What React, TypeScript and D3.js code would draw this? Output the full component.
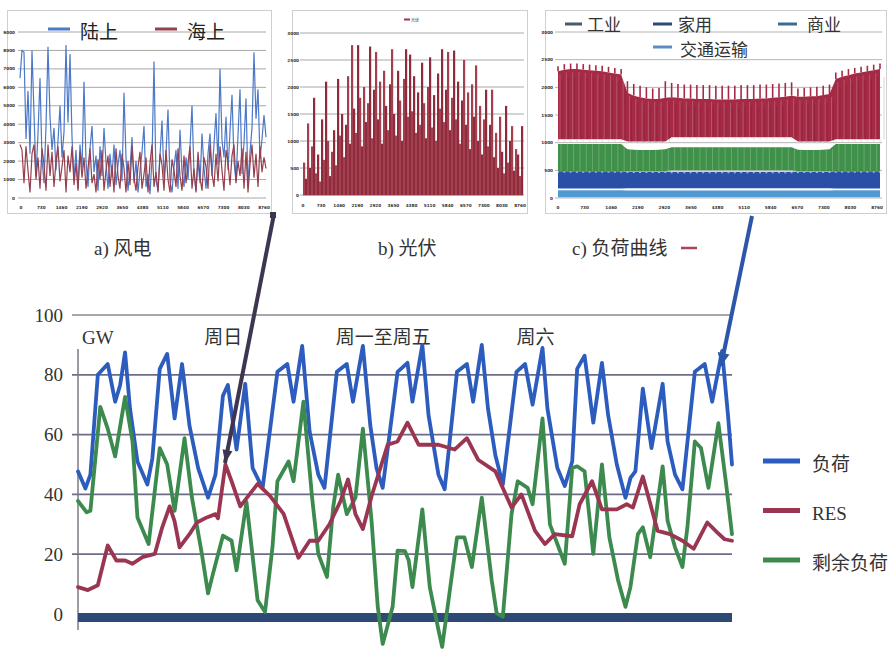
import React from "react";
import * as d3 from "d3";

// ---------- Main chart: one and a half weeks of hourly system data (GW) ----------
const LOAD_HOURS = [0,3,5,8,12,15,17,19,21,24,28,30,33,36,39,42,45,48.5,52.5,55.5,58.5,60.5,64,67.5,70.5,74.5,80.5,84.5,87,90.5,93.5,97,99.5,104.5,108.5,111,115,118,120.5,123,129,133,135,139,141.5,145.5,148,153,157,159.5,163,165.5,168.5,171.5,177,180.5,183.5,187.5,189.5,193.5,196.5,199.5,201.5,204.5,208,211.5,214,217.5,221,223,225,228,231.5,236,238,241,244,249,253,256,260,262.5,264];
const LOAD_GW = [47.7,42,46.6,80,83.6,71,76.5,87.5,68.7,51,43.3,52,82,87,65.4,83.6,63,48.8,38.9,46.6,73,76.6,55,77,48.8,42,81,83.6,71,89.7,61,46.6,42.2,81,83.6,71,89.7,63,48.8,42.2,81,84,71,90,66.5,46.6,41.7,81,83.6,71,90,68.7,53,43.3,81,83.6,70,89,68.7,48.8,42.8,51,82,86.4,64,84,66.5,50,38.9,45.5,47.7,75.4,55.5,77,57.7,46.6,41.7,81,83.6,71,88,65.4,50];

const RES_HOURS = [0,4,8,12,15.5,19,22,26,31,34,37,39,41,45,48,52,55.5,56.5,59.5,62,65.5,72.5,77.5,83,89,93.5,97,101.5,106,109,112,115,118.5,122.5,125,129,133,137.5,145.5,152,157,161.5,168.5,175,179,184.5,188.5,192.5,199.5,202.5,207.5,211.5,217.5,221.5,224,228,234,239,244,248.5,254,258,261,264];
const RES_GW = [9,8,9.6,22.9,17.9,17.9,16.8,19,20.1,29,36,31,22.3,26.7,30.6,32.3,33.4,32,50,44.4,36,43.5,39.5,33.5,18.8,24.5,24.5,30,37.8,45,33.4,28.4,39.4,50,56.6,57.7,64,56.6,56.6,55,58.8,51.6,47.7,35.6,40,27.8,23.4,26.7,26,36.7,44.4,35,35,36.7,35.6,46,27.8,26.7,24.5,21.8,30.6,27.3,25,24.5];

const RESID_HOURS = [0,3.5,5,9,12,15,19,22,24,28.5,33,36,39,43,46,50,52.5,54.5,58.5,62,64,68,72.5,75.5,78.5,80.5,85,87,91,94.5,97,100.5,103,105,108.5,112,115,118.5,121,123,127,129,132,133.5,135,139,142,145.5,147,153,156,159,163,167,169,171.5,175,177.5,181.5,183.5,187.5,190.5,193.5,196.5,199.5,201.5,204.5,208,211.5,214.5,218,221,223,226,228,231,236,238,241,244,246,249,251.5,254.5,258.5,261.5,264];
const RESID_GW = [37.8,34,34.5,69.3,62,52.7,72.6,57.7,32.3,23.4,55.5,50,34.5,58.8,38.9,20.1,6.9,13.5,26.2,24.5,14.6,37.5,4.6,0.7,22.3,44.4,51,44.4,71,38.9,20.1,12.4,35.6,46.6,33.4,38.9,62,31.2,2.4,-10,2.4,21.2,21,17.9,9,35,9,-5.3,-11,25.6,25.6,15.7,38.9,11.3,0.2,-0.9,33.4,44.4,42.2,36.7,65.4,30,23.4,16.8,48.8,49.4,47.7,20.1,50,25.6,11.3,2.4,9,26.7,29,19,49.4,31.2,22.3,15.7,29,57.7,55.5,42.2,63.8,44.4,26.7];

const MAIN_TICKS = [0, 20, 40, 60, 80, 100];
const DAY_LABELS = [
  { text: "GW", hour: 1.6 },
  { text: "周日", hour: 51 },
  { text: "周一至周五", hour: 104 },
  { text: "周六", hour: 177 },
];
const MAIN_LEGEND = ["负荷", "RES", "剩余负荷"];

// ---------- Panel a: wind, onshore vs offshore (GW) ----------
const WIND_ONSHORE = [6.5,8.0,7.9,3.2,5.8,2.4,8.0,4.6,1.2,3.5,6.5,2.1,0.8,3.9,8.2,4.4,2.6,3.8,1.5,3.1,5.0,2.2,3.6,8.3,4.1,7.8,3.3,1.0,2.6,0.5,2.9,1.6,6.3,2.0,0.6,2.7,3.9,1.4,2.3,0.4,2.8,1.2,3.8,1.9,0.5,2.4,1.1,2.9,0.7,1.8,2.6,0.9,5.7,2.2,0.4,1.6,3.3,0.8,2.0,0.3,1.5,2.5,3.9,0.6,1.3,0.2,2.1,7.4,1.0,0.4,2.3,4.2,1.1,2.4,4.8,0.9,0.3,1.7,2.6,0.5,3.7,1.4,0.6,2.2,1.0,2.8,5.0,1.3,0.4,2.0,0.8,3.5,1.6,0.5,2.4,3.5,1.2,2.9,4.6,1.8,7.0,3.1,2.2,4.4,1.5,3.6,5.6,2.0,0.9,3.4,5.9,1.3,3.0,5.4,0.6,2.5,3.8,7.9,4.3,5.9,2.1,3.2,4.5,3.3];
const WIND_OFFSHORE = [2.9,2.6,0.8,2.8,1.5,0.3,2.4,2.9,1.0,2.2,0.5,2.7,1.8,0.4,2.9,1.2,2.5,0.6,2.0,2.8,0.9,1.7,2.6,0.3,2.3,1.4,2.8,0.7,1.9,0.4,2.5,1.1,2.2,0.5,1.6,2.7,0.8,1.3,0.3,2.1,1.0,2.6,0.4,1.5,2.3,0.6,1.8,0.3,2.7,1.2,0.5,2.4,1.6,0.3,2.0,0.7,2.8,1.1,0.4,1.7,2.5,0.5,1.3,2.2,0.3,1.9,2.9,0.6,1.4,0.3,2.4,1.8,0.4,2.6,1.0,0.3,2.1,1.5,0.6,2.7,1.2,0.4,2.3,0.8,1.9,2.8,0.5,1.6,0.3,2.5,1.1,0.4,2.2,1.7,0.5,2.9,1.3,0.6,2.4,0.9,2.8,1.5,0.4,2.6,1.9,0.7,2.3,2.9,0.8,2.0,1.2,2.7,0.5,2.5,0.3,1.8,2.9,1.1,2.4,0.6,2.8,1.4,2.2,1.6];
const WIND_Y_TICKS = [0,1,2,3,4,5,6,7,8,9];

// ---------- Panel b: photovoltaics ----------
const SOLAR = [1.2,0.6,2.65,1.0,1.8,3.6,0.8,1.5,0.5,2.8,1.3,4.2,2.0,0.7,1.6,2.4,1.1,4.3,2.2,3.0,1.4,2.6,4.4,1.9,5.55,3.2,2.3,5.55,3.6,1.8,4.0,2.7,3.4,5.5,2.1,3.9,5.3,2.8,4.2,1.9,4.6,3.3,2.4,4.1,5.4,3.0,2.2,4.6,3.5,2.0,4.3,5.4,2.9,5.2,3.1,4.4,2.3,3.8,2.6,4.9,3.4,2.1,4.0,5.1,2.5,3.7,2.0,4.5,3.2,5.4,2.7,3.9,5.3,2.4,3.6,5.35,2.8,4.2,1.9,3.5,5.0,2.6,3.8,1.7,4.1,2.9,4.8,2.0,3.3,1.5,2.8,3.9,1.8,2.6,3.9,1.4,2.3,1.0,2.9,1.6,0.8,3.3,1.2,2.0,2.55,0.9,1.7,1.5,0.7,2.55];
const SOLAR_Y_TICKS = [0,1,2,3,4,5,6];

// ---------- Panel c: weekly load by sector (MW) ----------
const IND_PEAK = [2380,2420,2430,2430,2420,2410,2400,2390,2370,2350,2330,2110,2060,2030,2000,1980,1990,2110,2080,2060,2050,2050,2040,2040,2040,2030,2030,2030,2030,2040,2040,2040,2050,2050,2060,2070,2080,2090,1980,1990,2000,2010,2030,2050,2270,2300,2330,2350,2370,2390,2410,2430];
const IND_HIGH = [2290,2320,2330,2330,2320,2310,2300,2290,2270,2250,2230,1900,1850,1820,1800,1790,1790,1810,1820,1810,1800,1800,1790,1790,1790,1780,1780,1780,1780,1790,1790,1790,1800,1800,1810,1820,1830,1850,1830,1830,1840,1840,1860,1880,2150,2190,2220,2250,2270,2290,2310,2330];
const IND_LOW = [1060,1060,1060,1060,1060,1060,1060,1060,1060,1060,1060,1020,1020,1020,1020,1020,1020,1020,1100,1100,1100,1100,1100,1100,1100,1100,1100,1100,1100,1100,1100,1100,1100,1100,1100,1100,1100,1100,1020,1020,1020,1020,1020,1020,1060,1060,1060,1060,1060,1060,1060,1060];
const HOME_HIGH = [975,975,975,975,975,975,975,975,975,975,975,880,870,866,866,866,870,880,915,915,915,915,915,915,915,915,915,915,915,915,915,915,915,915,915,915,915,915,870,866,866,866,870,880,975,975,975,975,975,975,975,975];
const HOME_LOW = [490,490,490,490,490,490,490,490,490,490,490,490,490,490,490,490,490,490,500,500,500,500,500,500,500,500,500,500,500,500,500,500,500,500,500,500,500,500,490,490,490,490,490,490,490,490,490,490,490,490,490,490];
const COMM_HIGH = [485,485,485,485,485,485,485,485,485,485,485,480,480,480,480,480,480,480,475,475,475,475,475,475,475,475,475,475,475,475,475,475,475,475,475,475,475,475,480,480,480,480,480,480,485,485,485,485,485,485,485,485];
const COMM_LOW = [170,170,170,170,170,170,170,170,170,170,170,175,175,175,175,175,175,175,175,175,175,175,175,175,175,175,175,175,175,175,175,175,175,175,175,175,175,175,175,175,175,175,175,175,170,170,170,170,170,170,170,170];
const TRANS_HIGH = [140,140,140,140,140,140,140,140,140,140,140,135,135,135,135,135,135,135,135,135,135,135,135,135,135,135,135,135,135,135,135,135,135,135,135,135,135,135,135,135,135,135,135,135,140,140,140,140,140,140,140,140];
const TRANS_LOW = [15,15,15,15,15,15,15,15,15,15,15,15,15,15,15,15,15,15,15,15,15,15,15,15,15,15,15,15,15,15,15,15,15,15,15,15,15,15,15,15,15,15,15,15,15,15,15,15,15,15,15,15];
const LOAD_Y_TICKS = [0,500,1000,1500,2000,2500,3000];
const YEAR_HOUR_TICKS = [0,730,1460,2190,2920,3650,4380,5110,5840,6570,7300,8030,8760];

const SERIF = "'Liberation Serif', 'Noto Sans CJK SC', serif";
const CJK = "'Noto Sans CJK SC', 'Liberation Serif', sans-serif";

const C_BLUE = "#2c5cbd";
const C_RED = "#9a3552";
const C_GREEN = "#3c8a4e";

function arrowHead(x0: number, y0: number, x1: number, y1: number, len: number, half: number) {
  const dx = x1 - x0, dy = y1 - y0;
  const L = Math.hypot(dx, dy);
  const ux = dx / L, uy = dy / L;
  const bx = x1 - ux * len, by = y1 - uy * len;
  return `M${x1},${y1}L${bx - uy * half},${by + ux * half}L${bx + uy * half},${by - ux * half}Z`;
}

function TinyText({ x, y, t, anchor = "middle" }: { x: number; y: number; t: string; anchor?: string }) {
  return (
    <text x={x} y={y} fontSize={4.2} fill="#333" textAnchor={anchor as any} dominantBaseline="central" fontFamily="'DejaVu Sans', sans-serif" fontWeight="bold">
      {t}
    </text>
  );
}

function WindPanel() {
  const x = d3.scaleLinear().domain([0, WIND_ONSHORE.length - 1]).range([20, 266]);
  const xo = d3.scaleLinear().domain([0, WIND_OFFSHORE.length - 1]).range([20, 266]);
  const y = d3.scaleLinear().domain([0, 9]).range([198, 32]);
  const xt = d3.scaleLinear().domain([0, 8760]).range([21, 264]);
  const lineOn = d3.line<number>().x((_, i) => x(i)).y((d) => y(d));
  const lineOff = d3.line<number>().x((_, i) => xo(i)).y((d) => y(d));
  return (
    <g>
      <rect x={7.5} y={10.5} width={264} height={203} fill="#fff" stroke="#cfcfcf" />
      {WIND_Y_TICKS.map((t) => (
        <g key={t}>
          <line x1={18} x2={266} y1={y(t)} y2={y(t)} stroke="#a8a8a8" strokeWidth={1} />
          <TinyText x={15} y={y(t)} t={String(t * 1000)} anchor="end" />
        </g>
      ))}
      {YEAR_HOUR_TICKS.map((t) => (
        <TinyText key={t} x={xt(t)} y={207} t={String(t)} />
      ))}
      <path d={lineOn(WIND_ONSHORE) || ""} fill="none" stroke="#4d78c8" strokeWidth={1.2} />
      <path d={lineOff(WIND_OFFSHORE) || ""} fill="none" stroke="#94404f" strokeWidth={1.2} />
      <line x1={48} x2={70} y1={29} y2={29} stroke="#4d78c8" strokeWidth={3} />
      <text x={80} y={30} fontSize={19} fontFamily={CJK} dominantBaseline="central" fill="#222">陆上</text>
      <line x1={155} x2={177} y1={29} y2={29} stroke="#94404f" strokeWidth={3} />
      <text x={187} y={30} fontSize={19} fontFamily={CJK} dominantBaseline="central" fill="#222">海上</text>
    </g>
  );
}

function SolarPanel() {
  const x = d3.scaleBand<number>().domain(d3.range(SOLAR.length)).range([303, 523]).padding(0);
  const y = d3.scaleLinear().domain([0, 6]).range([195, 33]);
  const xt = d3.scaleLinear().domain([0, 8760]).range([303, 520]);
  return (
    <g>
      <rect x={292.5} y={10.5} width={235} height={203} fill="#fff" stroke="#cfcfcf" />
      {SOLAR_Y_TICKS.map((t) => (
        <g key={t}>
          <line x1={300} x2={524} y1={y(t)} y2={y(t)} stroke="#a8a8a8" strokeWidth={1} />
          <TinyText x={299} y={y(t)} t={String(t * 500)} anchor="end" />
        </g>
      ))}
      {YEAR_HOUR_TICKS.map((t) => (
        <TinyText key={t} x={xt(t)} y={205} t={String(t)} />
      ))}
      {SOLAR.map((v, i) => (
        <rect key={i} x={x(i)!} width={x.bandwidth() + 0.2} y={y(v)} height={y(0) - y(v)} fill={i % 2 ? "#8e2b3d" : "#a3404f"} />
      ))}
      <line x1={303} x2={523} y1={195.5} y2={195.5} stroke="#d7a26a" strokeWidth={1} />
      <line x1={404} x2={410} y1={19.5} y2={19.5} stroke="#9a3552" strokeWidth={2} />
      <text x={411} y={19.5} fontSize={4} fontFamily={CJK} dominantBaseline="central" fill="#333">光伏</text>
    </g>
  );
}

function LoadPanel() {
  const x = d3.scaleLinear().domain([0, IND_PEAK.length - 1]).range([558, 880]);
  const y = d3.scaleLinear().domain([0, 3000]).range([198, 32]);
  const xt = d3.scaleLinear().domain([0, 8760]).range([558, 877]);
  const band = (lo: number[], hi: number[]) =>
    d3.area<number>().x((_, i) => x(i)).y0((_, i) => y(lo[i])).y1((_, i) => y(hi[i]))(lo) || "";
  const weeks = d3.range(IND_PEAK.length);
  return (
    <g>
      <rect x={545.5} y={10.5} width={341} height={203} fill="#fff" stroke="#cfcfcf" />
      {LOAD_Y_TICKS.map((t) => (
        <g key={t}>
          <line x1={555} x2={882} y1={y(t)} y2={y(t)} stroke="#b5b5b5" strokeWidth={1} />
          <TinyText x={553} y={y(t)} t={String(t)} anchor="end" />
        </g>
      ))}
      {YEAR_HOUR_TICKS.map((t) => (
        <TinyText key={t} x={xt(t)} y={207} t={String(t)} />
      ))}
      <path d={band(TRANS_LOW, TRANS_HIGH)} fill="#4f9ad2" />
      <path d={band(COMM_LOW, COMM_HIGH)} fill="#2a4fa6" />
      <path d={band(HOME_LOW, HOME_HIGH)} fill="#3f9048" />
      <path d={band(IND_LOW, IND_HIGH)} fill="#a52a45" />
      {weeks.map((i) => (
        <g key={i}>
          <line x1={x(i)} x2={x(i)} y1={y(IND_HIGH[i])} y2={y(IND_PEAK[i])} stroke="#a52a45" strokeWidth={1.6} />
          <line x1={x(i) + 2} x2={x(i) + 2} y1={y(IND_LOW[i])} y2={y(IND_HIGH[i]) + 3} stroke="#fff" strokeOpacity={0.26} strokeWidth={0.8} />
          <line x1={x(i) + 4} x2={x(i) + 4} y1={y(IND_LOW[i])} y2={y(IND_HIGH[i]) + 8} stroke="#5a0f20" strokeOpacity={0.25} strokeWidth={0.8} />
          <line x1={x(i) + 3} x2={x(i) + 3} y1={y(HOME_LOW[i])} y2={y(HOME_HIGH[i])} stroke="#fff" strokeOpacity={0.22} strokeWidth={1} />
          <line x1={x(i) - 1} x2={x(i) + 1} y1={y(IND_LOW[i]) + 1.5} y2={y(IND_LOW[i]) + 1.5} stroke="#f3e3e3" strokeWidth={1.5} />
          <line x1={x(i) - 1} x2={x(i) + 1} y1={y(COMM_HIGH[i]) + 1} y2={y(COMM_HIGH[i]) + 1} stroke="#dfe6f2" strokeOpacity={0.7} strokeWidth={1.2} />
        </g>
      ))}
      <line x1={565} x2={582} y1={24} y2={24} stroke="#4a5a6e" strokeWidth={3} />
      <text x={587} y={23} fontSize={17} fontFamily={CJK} dominantBaseline="central" fill="#333">工业</text>
      <line x1={653} x2={672} y1={24} y2={24} stroke="#2c4a72" strokeWidth={3} />
      <text x={678} y={23} fontSize={17} fontFamily={CJK} dominantBaseline="central" fill="#333">家用</text>
      <line x1={778} x2={797} y1={24} y2={24} stroke="#3c6a94" strokeWidth={3} />
      <text x={807} y={23} fontSize={17} fontFamily={CJK} dominantBaseline="central" fill="#333">商业</text>
      <line x1={653} x2={672} y1={47} y2={47} stroke="#5b8cc2" strokeWidth={3} />
      <text x={680} y={48} fontSize={17} fontFamily={CJK} dominantBaseline="central" fill="#333">交通运输</text>
    </g>
  );
}

function MainChart() {
  const x = d3.scaleLinear().domain([0, 264]).range([78, 732]);
  const y = d3.scaleLinear().domain([0, 100]).range([614, 315]);
  const line = d3.line<[number, number]>().x((d) => x(d[0])).y((d) => y(d[1]));
  const pts = (h: number[], v: number[]) => h.slice(0, v.length).map((t, i) => [t, v[i]] as [number, number]);
  const series = [
    { name: MAIN_LEGEND[0], color: C_BLUE, data: pts(LOAD_HOURS, LOAD_GW) },
    { name: MAIN_LEGEND[2], color: C_GREEN, data: pts(RESID_HOURS, RESID_GW) },
    { name: MAIN_LEGEND[1], color: C_RED, data: pts(RES_HOURS, RES_GW) },
  ];
  const legendColors = [C_BLUE, C_RED, C_GREEN];
  return (
    <g>
      {MAIN_TICKS.filter((t) => t > 0).map((t) => (
        <line key={t} x1={72} x2={732} y1={y(t)} y2={y(t)} stroke={t === 100 ? "#8a8a96" : "#6c6c86"} strokeWidth={t === 100 ? 1.3 : 1.7} />
      ))}
      {MAIN_TICKS.map((t) => (
        <text key={t} x={63} y={y(t)} fontSize={19} fontFamily={SERIF} textAnchor="end" dominantBaseline="central" fill="#333">
          {t}
        </text>
      ))}
      <line x1={78} x2={78} y1={349} y2={630} stroke="#7a7a86" strokeWidth={1.5} />
      <rect x={x(0)} width={x(264) - x(0)} y={y(0) - 1} height={9} fill="#2d4a74" />
      {DAY_LABELS.map((d) => (
        <text key={d.text} x={x(d.hour)} y={337} fontSize={19} fontFamily={SERIF} dominantBaseline="central" fill="#333">
          {d.text}
        </text>
      ))}
      {series.map((s) => (
        <path key={s.name} d={line(s.data) || ""} fill="none" stroke={s.color} strokeWidth={3.8} strokeLinejoin="round" strokeLinecap="round" />
      ))}
      {MAIN_LEGEND.map((name, i) => (
        <g key={name}>
          <line x1={763} x2={800} y1={461 + i * 49.5} y2={461 + i * 49.5} stroke={legendColors[i]} strokeWidth={5} />
          <text x={812} y={464 + i * 49.5} fontSize={19} fontFamily={SERIF} dominantBaseline="central" fill="#333">
            {name}
          </text>
        </g>
      ))}
    </g>
  );
}

export default function App() {
  const purple = { x0: 274, y0: 214, x1: 225, y1: 463 };
  const blue = { x0: 752, y0: 216, x1: 721, y1: 366 };
  return (
    <svg width={894} height={654} style={{ position: "absolute", left: 0, top: 0, background: "#fff" }}>
      <rect width={894} height={654} fill="#fff" />
      <WindPanel />
      <SolarPanel />
      <LoadPanel />
      <text x={94} y={248} fontSize={19} fontFamily={SERIF} dominantBaseline="central" fill="#333">a) 风电</text>
      <text x={378} y={248} fontSize={19} fontFamily={SERIF} dominantBaseline="central" fill="#333">b) 光伏</text>
      <text x={572} y={248} fontSize={19} fontFamily={SERIF} dominantBaseline="central" fill="#333">c) 负荷曲线</text>
      <line x1={681} x2={697} y1={248} y2={248} stroke="#a8455a" strokeWidth={2.5} />
      <MainChart />
      <line x1={purple.x0} y1={purple.y0} x2={purple.x1} y2={purple.y1} stroke="#3e3550" strokeWidth={4} />
      <path d={arrowHead(purple.x0, purple.y0, purple.x1, purple.y1, 13, 5)} fill="#3e3550" />
      <rect x={270} y={212} width={6} height={6} fill="#3e3550" />
      <line x1={blue.x0} y1={blue.y0} x2={blue.x1} y2={blue.y1} stroke="#2d56a8" strokeWidth={4} />
      <path d={arrowHead(blue.x0, blue.y0, blue.x1, blue.y1, 13, 6)} fill="#2d56a8" />
    </svg>
  );
}
